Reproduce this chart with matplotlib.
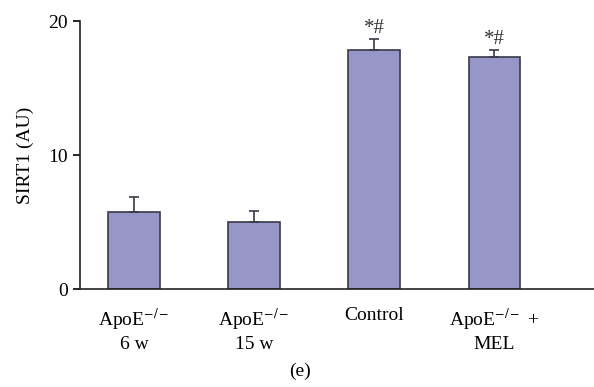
import matplotlib
matplotlib.use("Agg")
import matplotlib.pyplot as plt

plt.rcParams["font.family"] = ["Liberation Serif", "DejaVu Serif"]
plt.rcParams["mathtext.fontset"] = "stix"

GROUPS = ["ApoE$^{-/-}$\n6 w", "ApoE$^{-/-}$\n15 w", "Control", "ApoE$^{-/-}$ +\nMEL"]
SIRT1 = [5.75, 5.02, 17.84, 17.29]
SEM = [1.15, 0.83, 0.82, 0.55]
MARKS = ["", "", "*#", "*#"]

BAR_COLOR = "#9696c8"
EDGE_COLOR = "#3a3a48"

fig = plt.figure(figsize=(5.94, 3.87), dpi=100)
ax = fig.add_axes([0.1347, 0.2532, 0.8653, 0.6925])

x = list(range(len(GROUPS)))
ax.bar(x, SIRT1, width=0.43, color=BAR_COLOR, edgecolor=EDGE_COLOR, linewidth=1.2,
       yerr=[[0] * len(SEM), SEM], capsize=3.3,
       error_kw=dict(ecolor=EDGE_COLOR, elinewidth=1.2, capthick=1.2), zorder=2)

for xi, v, e, m in zip(x, SIRT1, SEM, MARKS):
    if m:
        ax.text(xi, v + e + 0.05, m, ha="center", va="bottom", fontsize=15,
                color="#333333", clip_on=False)

ax.set_xlim(-0.45, 3.83)
ax.set_ylim(0, 20)
ax.set_yticks([0, 10, 20])
ax.set_xticks(x, GROUPS)
ax.tick_params(axis="x", length=0, pad=13, labelsize=14)
ax.tick_params(axis="y", length=5, width=1.2, direction="out", labelsize=14, pad=4)
ax.set_ylabel("SIRT1 (AU)", fontsize=14, labelpad=10)

for s in ["top", "right"]:
    ax.spines[s].set_visible(False)
for s in ["left", "bottom"]:
    ax.spines[s].set_linewidth(1.2)
    ax.spines[s].set_color("#222222")

fig.text(0.505, 0.04, "(e)", ha="center", va="center", fontsize=14)

fig.savefig("out.png", dpi=100)
